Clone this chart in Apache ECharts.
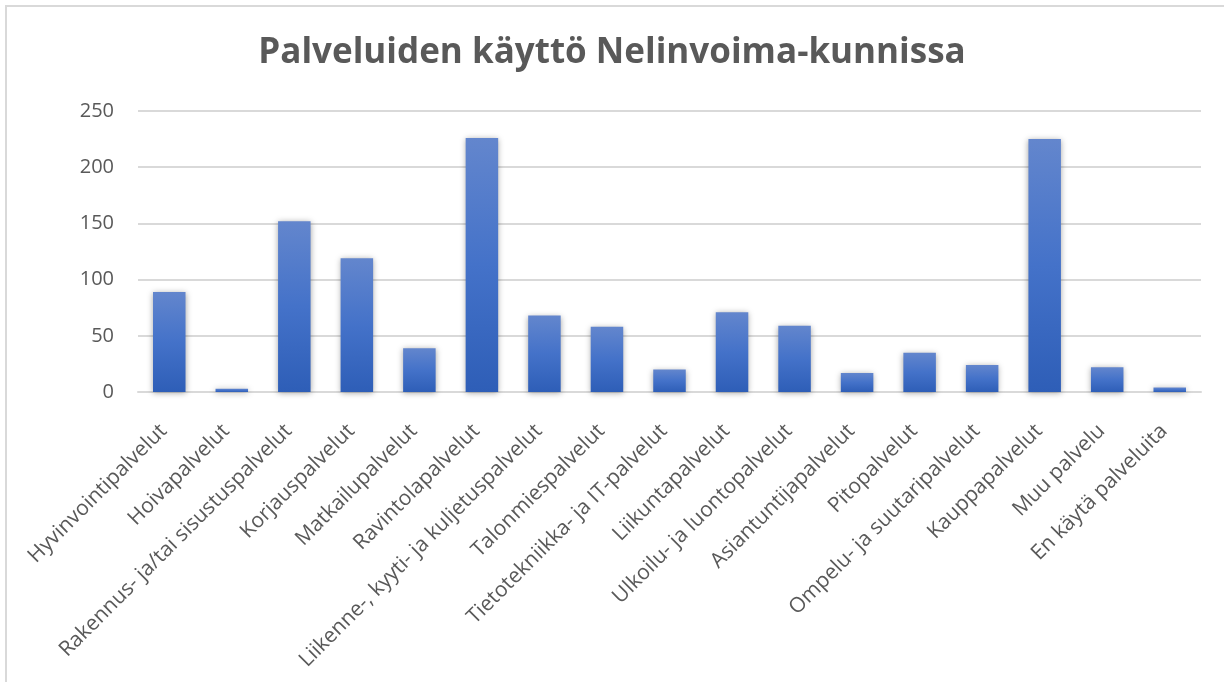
<!DOCTYPE html>
<html>
<head>
<meta charset="utf-8">
<script src="https://cdn.jsdelivr.net/npm/echarts@6/dist/echarts.min.js"></script>
<style>
  html, body { margin: 0; padding: 0; background: #ffffff; }
  #frame { position: absolute; left: 5px; top: 5px; width: 1230px; height: 690px; border-left: 2px solid #d9d9d9; border-top: 2px solid #d9d9d9; box-sizing: border-box; }
  #chart { position: absolute; left: 0; top: 0; width: 1224px; height: 682px; }
</style>
</head>
<body>
<div id="frame"></div>
<div id="chart"></div>
<script>
const titleText = 'Palveluiden käyttö Nelinvoima-kunnissa';
const categories = [
  'Hyvinvointipalvelut',
  'Hoivapalvelut',
  'Rakennus- ja/tai sisustuspalvelut',
  'Korjauspalvelut',
  'Matkailupalvelut',
  'Ravintolapalvelut',
  'Liikenne-, kyyti- ja kuljetuspalvelut',
  'Talonmiespalvelut',
  'Tietotekniikka- ja IT-palvelut',
  'Liikuntapalvelut',
  'Ulkoilu- ja luontopalvelut',
  'Asiantuntijapalvelut',
  'Pitopalvelut',
  'Ompelu- ja suutaripalvelut',
  'Kauppapalvelut',
  'Muu palvelu',
  'En käytä palveluita'
];
const values = [89, 3, 152, 119, 39, 226, 68, 58, 20, 71, 59, 17, 35, 24, 225, 22, 4];
const yMin = 0;
const yMax = 250;
const yInterval = 50;

const chart = echarts.init(document.getElementById('chart'), null, { renderer: 'canvas' });
chart.setOption({
  backgroundColor: 'transparent',
  animation: false,
  title: {
    text: titleText,
    left: 'center',
    top: 31,
    textStyle: { fontFamily: 'Open Sans', fontWeight: 'bold', fontSize: 35, color: '#595959' }
  },
  grid: { left: 138, right: 23, top: 111, bottom: 290, containLabel: false },
  xAxis: {
    type: 'category',
    data: categories,
    axisLine: { show: true, lineStyle: { color: '#d9d9d9', width: 2 } },
    axisTick: { show: false },
    axisLabel: {
      interval: 0,
      rotate: 45,
      margin: 30,
      padding: [0, 8, 0, 0],
      align: 'right',
      verticalAlign: 'middle',
      fontFamily: 'Open Sans',
      fontSize: 21,
      color: '#595959'
    }
  },
  yAxis: {
    type: 'value',
    min: yMin,
    max: yMax,
    interval: yInterval,
    axisLine: { show: false },
    axisTick: { show: false },
    splitLine: { lineStyle: { color: '#d9d9d9', width: 2 } },
    axisLabel: { margin: 24, fontFamily: 'Open Sans', fontSize: 20, color: '#595959' }
  },
  series: [{
    type: 'bar',
    data: values,
    barWidth: '52%',
    itemStyle: {
      color: new echarts.graphic.LinearGradient(0, 0, 0, 1, [
        { offset: 0, color: '#6386cd' },
        { offset: 0.5, color: '#4472c9' },
        { offset: 1, color: '#2e5eb7' }
      ]),
      shadowBlur: 6,
      shadowColor: 'rgba(0,0,0,0.35)',
      shadowOffsetX: 0,
      shadowOffsetY: 1
    }
  }]
});
</script>
</body>
</html>
